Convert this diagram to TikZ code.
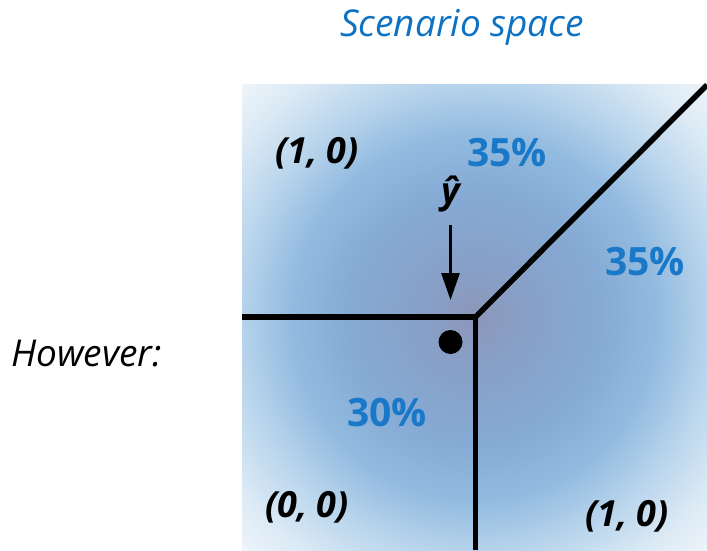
\documentclass[tikz,border=0pt]{standalone}
\usepackage{fontspec}
\setmainfont{Open Sans}
\usepackage{tikz}
\usetikzlibrary{arrows.meta}
\definecolor{SCBlue}{HTML}{1A78C8}
\definecolor{SCTitle}{HTML}{0E72C4}
\definecolor{SCCore}{HTML}{8C97B9}
\definecolor{SCInner}{HTML}{889FC6}
\definecolor{SCMid}{HTML}{85AAD4}
\definecolor{SCRim}{HTML}{93BBE0}
\definecolor{SCEdge}{HTML}{B9D5EC}
\definecolor{SCOuter}{HTML}{DCEAF5}
\definecolor{SCCorner}{HTML}{EEF4FA}
\pgfdeclareradialshading{scenshade}{\pgfpoint{0bp}{0bp}}{%
  color(0bp)=(SCCore); color(3.5bp)=(SCInner); color(9.5bp)=(SCMid);
  color(14bp)=(SCRim); color(18bp)=(SCEdge); color(22bp)=(SCOuter);
  color(25bp)=(SCCorner); color(30bp)=(SCCorner)}
\tikzset{
  corner/.style={font=\fontsize{36}{40}\selectfont\bfseries\itshape},
  share/.style={text=SCBlue,font=\fontsize{39}{44}\selectfont\bfseries},
  border/.style={line width=5.5pt},
}

\begin{document}
\begin{tikzpicture}[x=1pt,y=1pt]
\path[use as bounding box] (0,0) rectangle (707,550);
\coordinate (jn) at (475.5,233);
\begin{scope}
  \clip (242,0) rectangle (707,465);
  \shade[shading=scenshade] (474.5,232.5) circle (329);
\end{scope}
% region borders
\coordinate (lft) at (242,233);
\coordinate (bot) at (475.5,0);
\coordinate (tr) at (707,465);
\draw[border] (lft) -- (jn) -- (bot);
\draw[border] (jn) -- (tr);
% estimate and marker
\node[circle,fill=black,minimum size=24pt,inner sep=0pt] (dot) at (450.5,208) {};
\node[font=\fontsize{36}{40}\selectfont\bfseries\itshape] (yhat) at (450.5,356) {ŷ};
\coordinate (arrtop) at (450.5,325);
\coordinate (arrtip) at (450.5,250);
\draw[line width=3pt,-{Triangle[length=27pt,width=18pt]}] (arrtop) -- (arrtip);
% labels
\node[corner] (tl) at (317,397) {(1, 0)};
\node[corner] (bl) at (307,43) {(0, 0)};
\node[corner] (br) at (627,34) {(1, 0)};
\node[share] (ptop) at (507,397) {35\%};
\node[share] (pright) at (645,288) {35\%};
\node[share] (pleft) at (387,137) {30\%};
\node[text=SCTitle,font=\fontsize{37}{42}\selectfont\itshape] (title) at (462,523) {Scenario space};
\node[anchor=base east,font=\fontsize{37}{42}\selectfont\itshape] (however) at (165,184) {However:};
\end{tikzpicture}
\end{document}
